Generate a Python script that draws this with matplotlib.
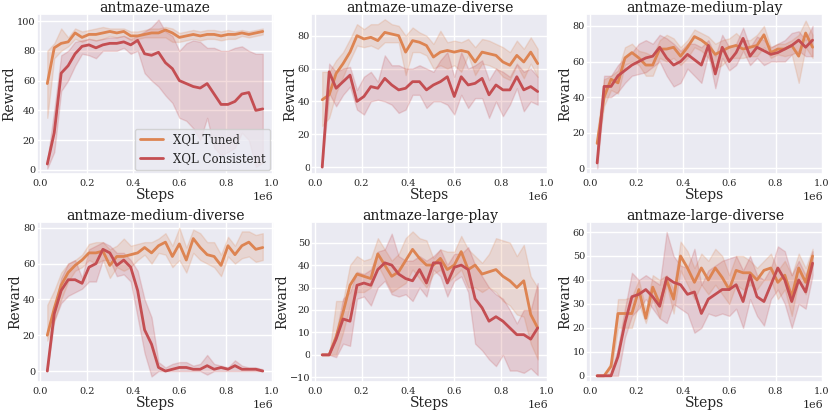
import numpy as np
import matplotlib
matplotlib.use("Agg")
import matplotlib.pyplot as plt
import seaborn as sns

# training steps (x axis), one point every 30k steps
steps = [30000, 60000, 90000, 120000, 150000, 180000, 210000, 240000,
         270000, 300000, 330000, 360000, 390000, 420000, 450000, 480000,
         510000, 540000, 570000, 600000, 630000, 660000, 690000, 720000,
         750000, 780000, 810000, 840000, 870000, 900000, 930000, 960000]

envs = ["antmaze-umaze", "antmaze-umaze-diverse", "antmaze-medium-play",
        "antmaze-medium-diverse", "antmaze-large-play", "antmaze-large-diverse"]
methods = ["XQL Tuned", "XQL Consistent"]

# antmaze-umaze
umaze_tuned = [58, 82, 85, 86, 92, 89, 91, 91, 92, 93, 92, 93, 90, 90, 91, 92,
               92, 94, 92, 89, 90, 91, 90, 91, 91, 90, 91, 91, 92, 91, 92, 93]
umaze_tuned_lo = [35, 75, 80, 83, 88, 86, 88, 87, 88, 90, 89, 90, 87, 88, 89, 89,
                  89, 89, 86, 86, 87, 88, 87, 88, 88, 87, 88, 88, 90, 89, 90, 91]
umaze_tuned_hi = [80, 85, 95, 89, 95, 93, 94, 95, 96, 95, 95, 95, 93, 93, 94, 95,
                  95, 96, 95, 92, 93, 94, 93, 94, 94, 93, 94, 93, 94, 93, 94, 95]
umaze_cons = [4, 25, 65, 70, 78, 83, 84, 82, 84, 85, 85, 86, 84, 87, 78, 77,
              79, 72, 68, 60, 58, 56, 55, 58, 51, 44, 44, 46, 51, 52, 40, 41]
umaze_cons_lo = [1, 12, 53, 60, 70, 78, 77, 75, 80, 80, 80, 82, 78, 80, 65, 60,
                 56, 50, 45, 35, 33, 28, 20, 35, 15, 10, 12, 15, 25, 20, 2, 5]
umaze_cons_hi = [6, 40, 77, 80, 86, 87, 88, 87, 88, 89, 89, 90, 88, 90, 93, 96,
                 101, 93, 90, 80, 85, 87, 86, 82, 82, 80, 80, 82, 83, 80, 78, 78]

# antmaze-umaze-diverse
udiv_tuned = [41, 44, 57, 63, 70, 80, 78, 79, 77, 82, 81, 80, 70, 77, 76, 74,
              67, 70, 71, 70, 71, 70, 64, 70, 69, 68, 64, 62, 68, 64, 70, 63]
udiv_tuned_lo = [25, 30, 45, 55, 65, 74, 73, 74, 72, 76, 76, 76, 56, 70, 70, 68,
                 60, 62, 60, 62, 58, 68, 56, 63, 62, 60, 55, 53, 62, 54, 63, 55]
udiv_tuned_hi = [58, 58, 65, 70, 78, 87, 84, 87, 87, 90, 87, 86, 80, 85, 82, 80,
                 75, 83, 76, 77, 76, 78, 73, 78, 77, 75, 73, 70, 77, 72, 79, 72]
udiv_cons = [0, 58, 48, 52, 56, 40, 43, 49, 48, 54, 50, 47, 48, 52, 52, 47,
             50, 52, 55, 43, 55, 50, 51, 54, 44, 50, 47, 47, 55, 47, 49, 46]
udiv_cons_lo = [0, 45, 37, 44, 49, 35, 32, 40, 41, 40, 38, 33, 35, 44, 44, 36,
                40, 40, 38, 32, 44, 36, 42, 42, 30, 40, 31, 38, 48, 34, 40, 38]
udiv_cons_hi = [0, 63, 58, 60, 61, 47, 55, 58, 52, 68, 62, 62, 60, 60, 62, 60,
                58, 65, 70, 55, 70, 60, 62, 65, 53, 60, 58, 55, 63, 58, 60, 55]

# antmaze-medium-play
mplay_tuned = [14, 40, 50, 48, 62, 65, 62, 58, 58, 67, 67, 68, 63, 68, 74, 72,
               69, 64, 66, 68, 69, 67, 68, 69, 75, 65, 67, 67, 69, 63, 76, 68]
mplay_tuned_lo = [10, 35, 44, 42, 58, 60, 58, 52, 52, 62, 60, 62, 58, 62, 68, 66,
                  62, 56, 58, 62, 62, 62, 63, 63, 68, 62, 64, 63, 64, 48, 68, 62]
mplay_tuned_hi = [20, 50, 52, 55, 68, 70, 66, 65, 63, 72, 75, 73, 68, 72, 78, 76,
                  74, 70, 72, 73, 76, 72, 72, 75, 80, 68, 70, 70, 72, 75, 83, 75]
mplay_cons = [3, 46, 46, 52, 55, 58, 60, 62, 63, 68, 62, 58, 60, 64, 61, 58,
              69, 53, 68, 60, 65, 73, 63, 68, 66, 64, 65, 67, 69, 72, 68, 72]
mplay_cons_lo = [0, 40, 40, 43, 48, 52, 53, 54, 57, 60, 52, 46, 48, 56, 52, 48,
                 64, 45, 62, 55, 58, 66, 58, 62, 58, 60, 60, 60, 64, 66, 63, 63]
mplay_cons_hi = [5, 52, 52, 58, 62, 65, 70, 72, 70, 75, 73, 70, 66, 70, 70, 68,
                 72, 63, 75, 68, 70, 79, 68, 74, 72, 68, 70, 72, 76, 77, 72, 80]

# antmaze-medium-diverse
mdiv_tuned = [20, 35, 48, 55, 59, 62, 66, 66, 67, 59, 64, 64, 65, 66, 69, 66,
              70, 72, 64, 71, 62, 74, 69, 65, 64, 59, 70, 65, 70, 72, 68, 69]
mdiv_tuned_lo = [17, 28, 40, 50, 56, 58, 62, 60, 62, 52, 58, 56, 58, 62, 65, 60,
                 66, 65, 58, 62, 55, 66, 62, 60, 58, 53, 64, 60, 63, 64, 61, 62]
mdiv_tuned_hi = [37, 45, 55, 60, 62, 65, 71, 72, 72, 68, 70, 74, 70, 71, 72, 72,
                 74, 77, 70, 80, 69, 79, 77, 72, 72, 65, 75, 70, 78, 78, 76, 77]
mdiv_cons = [0, 32, 45, 51, 51, 49, 58, 60, 68, 66, 59, 62, 58, 45, 23, 15,
             2, 0, 1, 2, 2, 1, 1, 3, 1, 2, 1, 3, 1, 1, 1, 0]
mdiv_cons_lo = [0, 28, 38, 42, 44, 46, 50, 50, 62, 62, 53, 54, 50, 30, 10, -3,
                0, 0, 0, 0, 0, 0, 0, -2, 0, 0, 0, 0, 0, 0, 0, 0]
mdiv_cons_hi = [0, 35, 52, 60, 62, 52, 68, 70, 72, 70, 66, 66, 62, 56, 40, 30,
                5, 2, 4, 5, 5, 3, 4, 9, 4, 3, 2, 6, 3, 2, 2, 1]

# antmaze-large-play
lplay_tuned = [0, 0, 8, 19, 31, 36, 35, 34, 45, 40, 35, 37, 42, 47, 43, 40,
               40, 43, 38, 40, 46, 38, 40, 36, 37, 38, 35, 33, 30, 33, 18, 12]
lplay_tuned_lo = [0, 0, 0, 10, 22, 28, 28, 30, 40, 34, 28, 30, 32, 38, 34, 30,
                  36, 38, 32, 35, 38, 30, 30, 28, 30, 28, 24, 22, 18, 17, 5, -2]
lplay_tuned_hi = [0, 0, 24, 24, 40, 44, 42, 43, 52, 47, 42, 45, 52, 55, 52, 51,
                  43, 47, 46, 46, 53, 47, 44, 41, 45, 52, 51, 50, 44, 49, 35, 30]
lplay_cons = [0, 0, 7, 16, 15, 31, 32, 31, 38, 41, 40, 36, 34, 33, 38, 32,
              41, 41, 32, 39, 40, 38, 25, 21, 15, 17, 15, 12, 9, 9, 7, 12]
lplay_cons_lo = [0, 0, -1, 5, 4, 25, 26, 22, 30, 33, 27, 26, 27, 24, 30, 26,
                 38, 35, 26, 33, 35, 28, 5, 2, -2, -5, 0, -7, -7, -8, -6, -9]
lplay_cons_hi = [0, 0, 10, 25, 28, 37, 36, 38, 46, 47, 54, 44, 42, 42, 44, 42,
                 44, 47, 40, 45, 45, 48, 40, 35, 30, 27, 25, 20, 14, 20, 20, 32]

# antmaze-large-diverse
ldiv_tuned = [0, 0, 4, 26, 26, 26, 36, 24, 37, 30, 40, 32, 50, 45, 39, 45,
              40, 45, 41, 36, 44, 43, 43, 40, 44, 45, 39, 42, 33, 45, 39, 50]
ldiv_tuned_lo = [0, 0, 1, 20, 20, 20, 30, 22, 32, 24, 38, 26, 44, 38, 32, 38,
                 34, 38, 34, 30, 38, 36, 38, 36, 40, 40, 32, 36, 25, 40, 34, 46]
ldiv_tuned_hi = [0, 0, 6, 32, 32, 33, 40, 28, 42, 40, 42, 36, 56, 52, 45, 51,
                 48, 53, 50, 42, 50, 50, 48, 45, 48, 51, 44, 48, 42, 51, 45, 53]
ldiv_cons = [0, 0, 0, 8, 22, 33, 34, 36, 33, 29, 41, 39, 38, 34, 35, 26,
             32, 34, 36, 36, 38, 31, 42, 33, 31, 38, 45, 40, 31, 40, 35, 47]
ldiv_cons_lo = [0, 0, 0, 0, 16, 25, 28, 32, 28, 24, 22, 30, 28, 26, 18, 20,
                26, 25, 26, 25, 28, 20, 32, 25, 21, 32, 36, 30, 20, 30, 28, 42]
ldiv_cons_hi = [0, 0, 1, 12, 28, 43, 40, 42, 40, 38, 60, 50, 46, 45, 53, 38,
                44, 46, 48, 49, 50, 44, 50, 42, 40, 45, 54, 52, 42, 48, 42, 52]

tuned = [umaze_tuned, udiv_tuned, mplay_tuned, mdiv_tuned, lplay_tuned, ldiv_tuned]
tuned_lo = [umaze_tuned_lo, udiv_tuned_lo, mplay_tuned_lo, mdiv_tuned_lo, lplay_tuned_lo, ldiv_tuned_lo]
tuned_hi = [umaze_tuned_hi, udiv_tuned_hi, mplay_tuned_hi, mdiv_tuned_hi, lplay_tuned_hi, ldiv_tuned_hi]
cons = [umaze_cons, udiv_cons, mplay_cons, mdiv_cons, lplay_cons, ldiv_cons]
cons_lo = [umaze_cons_lo, udiv_cons_lo, mplay_cons_lo, mdiv_cons_lo, lplay_cons_lo, ldiv_cons_lo]
cons_hi = [umaze_cons_hi, udiv_cons_hi, mplay_cons_hi, mdiv_cons_hi, lplay_cons_hi, ldiv_cons_hi]

ylims = [(-2.5, 104.5), (-4, 93), (-3, 86.5), (-6, 83), (-12, 59), (-2.5, 64)]

sns.set_theme(style="darkgrid", font="serif")
plt.rcParams["font.family"] = ["DejaVu Serif"]
colors = ["#DD8452", "#C44E52"]

fig, axes = plt.subplots(2, 3, figsize=(8.3, 4.15), dpi=100)
fig.subplots_adjust(left=0.044, right=0.992, top=0.9655, bottom=0.080,
                    wspace=0.16, hspace=0.306)

for i, ax in enumerate(axes.flat):
    series = [(tuned[i], tuned_lo[i], tuned_hi[i]), (cons[i], cons_lo[i], cons_hi[i])]
    for (mean, lo, hi), c, name in zip(series, colors, methods):
        ax.fill_between(steps, lo, hi, color=c, alpha=0.2, linewidth=1)
        ax.plot(steps, mean, color=c, lw=2, label=name)
    ax.set_title(envs[i], fontsize=10, pad=2, color="0.1")
    ax.set_xlabel("Steps", fontsize=10, labelpad=0)
    ax.set_ylabel("Reward", fontsize=10, labelpad=0)
    ax.set_ylim(*ylims[i])
    ax.set_xticks([0, 200000, 400000, 600000, 800000, 1000000])
    ax.tick_params(axis="x", labelsize=7, length=0, pad=3.5)
    ax.tick_params(axis="y", labelsize=7, length=0, pad=1)
    ax.xaxis.get_offset_text().set_fontsize(8)

axes[0, 0].legend(loc="lower right", fontsize=8.5, borderaxespad=0.3)
# x limits follow default margins around the data
for ax in axes.flat:
    ax.set_xlim(-16500, 1006500)

fig.savefig("out.png", dpi=100)
